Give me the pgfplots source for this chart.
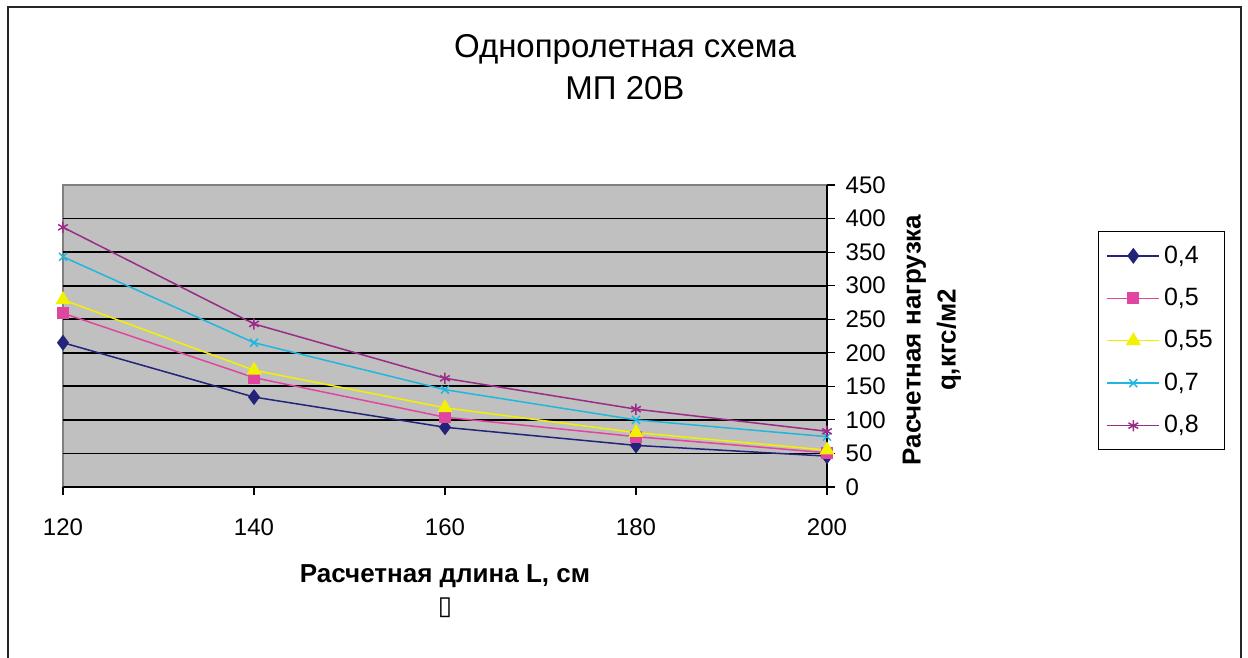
\documentclass[border=0pt]{standalone}
\usepackage{pgfplots}
\pgfplotsset{compat=1.18}
\usepackage{fontspec}
\setmainfont{Liberation Sans}
\newfontfamily\symfont{DejaVu Sans}
\definecolor{bggray}{HTML}{C0C0C0}
\definecolor{sA}{HTML}{23237A}
\definecolor{sB}{HTML}{E0459F}
\definecolor{sC}{HTML}{F2F200}
\definecolor{sD}{HTML}{1FB6E0}
\definecolor{sE}{HTML}{9B2B86}
\begin{document}
\begin{tikzpicture}
\useasboundingbox (-31.5pt,-85.5pt) rectangle (592.5pt,243.5pt);
\draw[line width=1.1pt, black!85] (-27.5pt,-85.5pt) -- (-27.5pt,240pt) -- (589pt,240pt) -- (589pt,-85.5pt);
\begin{axis}[
  at={(0pt,0pt)}, anchor=south west,
  scale only axis, width=382pt, height=151pt,
  xmin=120, xmax=200, ymin=0, ymax=450,
  xtick={120,140,...,200}, ytick={0,50,...,450},
  axis x line*=bottom, axis y line*=right,
  axis line style={black, line width=0.6pt},
  tick align=outside, major tick length=4pt,
  tick style={black, line width=0.6pt},
  axis background/.style={fill=bggray, draw=gray, line width=0.8pt},
  extra y ticks={50,100,...,400}, extra y tick labels={},
  extra y tick style={grid=major, major tick length=0pt},
  every axis grid/.style={black, line width=0.9pt},
  /pgf/number format/assume math mode=true,
  tick label style={font=\fontsize{12}{14}\selectfont},
  xticklabel style={yshift=-8.5pt},
  yticklabel style={xshift=1.8pt},
  title={Однопролетная схема\\МП 20В},
  title style={at={(axis description cs:0.7356,1.351)}, anchor=center, align=center, font=\fontsize{16.5}{21}\selectfont},
  xlabel={\textbf{Расчетная длина L, см}\\{\symfont ▯}},
  every axis x label/.style={at={(axis description cs:0.5,-0.344)}, anchor=center, align=center, font=\fontsize{13}{16}\selectfont},
  ylabel={Расчетная нагрузка\\q,кгс/м2},
  every axis y label/.style={at={(axis description cs:1.1374,0.4868)}, anchor=center, align=center, rotate=90, font=\bfseries\fontsize{13}{17.5}\selectfont},
  legend style={at={(axis description cs:1.3547,0.8477)}, anchor=north west, draw=black, line width=0.6pt, fill=white, font=\fontsize{12.5}{14}\selectfont, row sep=7pt, inner xsep=4pt, inner ysep=5pt},
  legend cell align=left,
  legend image code/.code={\draw[mark repeat=2, mark phase=2] plot coordinates {(0pt,0pt) (13pt,0pt) (26pt,0pt)};},
  every axis plot/.append style={line width=0.75pt},
]
\addplot[color=sA, mark=diamond*, mark size=3.4pt, mark options={fill=sA}] coordinates {(120,215) (140,134) (160,89) (180,62) (200,46)};
\addlegendentry{0,4}
\addplot[color=sB, mark=square*, mark size=2.7pt, mark options={fill=sB}] coordinates {(120,259) (140,163) (160,104) (180,75) (200,51)};
\addlegendentry{0,5}
\addplot[color=sC, mark=triangle*, mark size=3.6pt, mark options={fill=sC}] coordinates {(120,279) (140,174) (160,118) (180,81) (200,55)};
\addlegendentry{0,55}
\addplot[color=sD, mark=x, mark size=2.8pt] coordinates {(120,343) (140,215) (160,145) (180,100) (200,75)};
\addlegendentry{0,7}
\addplot[color=sE, mark=asterisk, mark size=2.8pt] coordinates {(120,387) (140,243) (160,162) (180,116) (200,83)};
\addlegendentry{0,8}
\end{axis}
\end{tikzpicture}
\end{document}
